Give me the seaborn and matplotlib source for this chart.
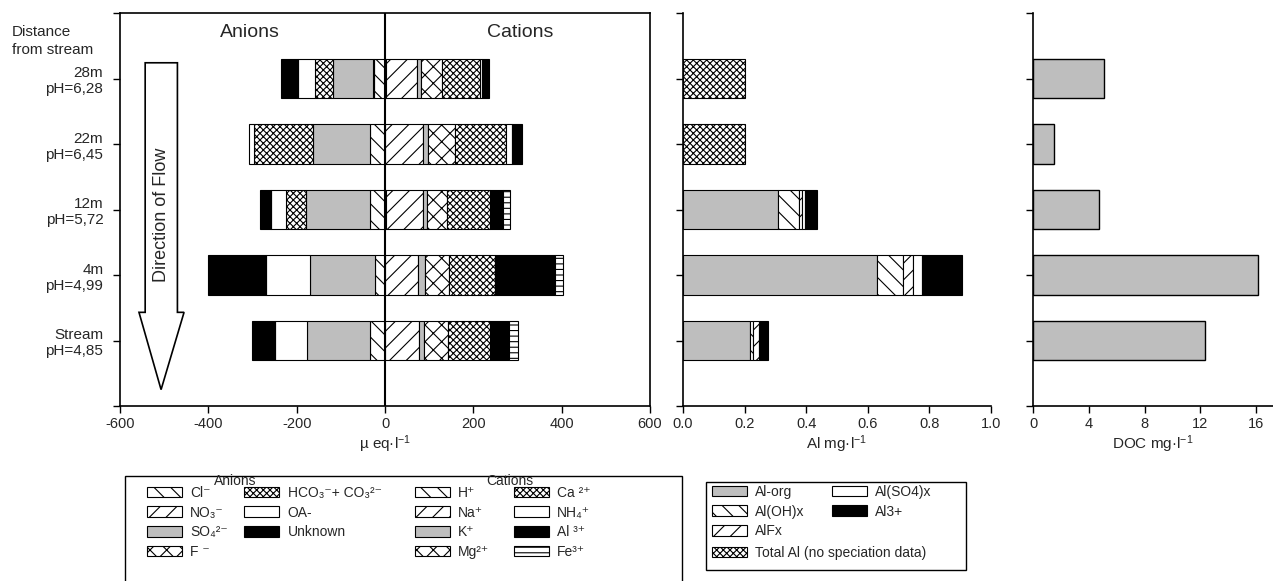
import numpy as np
import pandas as pd
import matplotlib.pyplot as plt
import seaborn as sns
from matplotlib.patches import Patch, Rectangle, Polygon
from matplotlib.transforms import ScaledTranslation

sns.set_theme(style="ticks")
plt.rcParams['font.family'] = ['Liberation Sans', 'DejaVu Sans']
plt.rcParams['mathtext.default'] = 'regular'
plt.rcParams['hatch.linewidth'] = 0.8
plt.rcParams['axes.unicode_minus'] = False

rows = ["28m\npH=6,28", "22m\npH=6,45", "12m\npH=5,72", "4m\npH=4,99", "Stream\npH=4,85"]

# anions, ueq/l (drawn to the left)
cl = [25, 34, 34, 23, 35]
no3 = [3, 0, 0, 0, 0]
so4 = [90, 128, 145, 146, 142]
f_ = [0, 0, 0, 0, 0]
hco3 = [40, 134, 46, 0, 0]
oa = [39, 13, 33, 101, 73]
unknown = [38, 0, 25, 131, 50]

# cations, ueq/l (drawn to the right)
h = [2, 1, 2, 0, 0]
na = [70, 86, 85, 74, 76]
k = [9, 11, 8, 17, 13]
mg = [48, 60, 45, 54, 54]
ca = [87, 117, 97, 103, 94]
nh4 = [3, 13, 0, 0, 0]
al = [17, 23, 30, 137, 44]
fe = [0, 0, 15, 17, 20]

# aluminium speciation, mg/l
al_org = [0, 0, 0.309, 0.630, 0.216]
al_oh = [0, 0, 0.067, 0.085, 0.010]
al_f = [0, 0, 0.009, 0.031, 0.022]
al_so4 = [0, 0, 0.011, 0.030, 0.003]
al3 = [0, 0, 0.039, 0.131, 0.025]
al_total = [0.2, 0.2, 0, 0, 0]

# DOC, mg/l
doc = [5.1, 1.48, 4.75, 16.1, 12.3]

an_labels = ["Cl⁻", "NO₃⁻", "SO₄²⁻", "F ⁻", "HCO₃⁻+ CO₃²⁻", "OA-", "Unknown"]
cat_labels = ["H⁺", "Na⁺", "K⁺", "Mg²⁺", "Ca ²⁺", "NH₄⁺", "Al ³⁺", "Fe³⁺"]
al_labels = ["Al-org", "Al(OH)x", "AlFx", "Al(SO4)x", "Al3+"]

GRAY = "#bebebe"
BACK = "\\\\"
FWD = "//"
CROSS = "xx"
DENSE = "xxxxx"

pos = np.arange(len(rows))

W, H = 1273, 581
fig = plt.figure(figsize=(W / 100, H / 100), dpi=100)
bot = 1 - 406 / H
hgt = 393 / H
ax1 = fig.add_axes([120 / W, bot, 530 / W, hgt])
ax2 = fig.add_axes([683 / W, bot, 308 / W, hgt])
ax3 = fig.add_axes([1033 / W, bot, 240 / W, hgt])


def stack(ax, series, styles, sign=1):
    left = np.zeros(len(pos))
    for vals, (fc, hatch) in zip(series, styles):
        vals = np.asarray(vals, float)
        keep = vals > 0
        ax.barh(pos[keep], sign * vals[keep], left=left[keep], height=0.6,
                color=fc, edgecolor="black", hatch=hatch, linewidth=0.8)
        left += sign * vals


an_styles = [("white", BACK), ("white", FWD), (GRAY, None), ("white", CROSS),
             ("white", DENSE), ("white", None), ("black", None)]
cat_styles = [("white", BACK), ("white", FWD), (GRAY, None), ("white", CROSS),
              ("white", DENSE), ("white", None), ("black", None), ("white", "---")]
stack(ax1, [cl, no3, so4, f_, hco3, oa, unknown], an_styles, sign=-1)
stack(ax1, [h, na, k, mg, ca, nh4, al, fe], cat_styles, sign=1)
ax1.axvline(0, color="black", lw=1.5)

ax1.set_xlim(-600, 600)
ax1.set_xticks(range(-600, 601, 200))
ax1.set_xlabel("µ eq·l$^{-1}$", fontsize=11, labelpad=2)
ax1.text(-306, -0.7, "Anions", ha="center", va="center", fontsize=14)
ax1.text(306, -0.7, "Cations", ha="center", va="center", fontsize=14)

# flow arrow
arrow = Polygon([(-543, -0.24), (-470, -0.24), (-470, 3.57), (-455, 3.57),
                 (-507, 4.75), (-557, 3.57), (-543, 3.57)],
                closed=True, fc="white", ec="black", lw=1.2, zorder=3)
ax1.add_patch(arrow)
ax1.text(-507, 2.08, "Direction of Flow", rotation=90, ha="center", va="center",
         fontsize=13, zorder=4)

# aluminium panel
al_styles = [(GRAY, None), ("white", BACK), ("white", FWD), ("white", None),
             ("black", None), ("white", DENSE)]
stack(ax2, [al_org, al_oh, al_f, al_so4, al3, al_total], al_styles)
ax2.set_xlim(0, 1.0)
ax2.set_xticks(np.arange(0, 1.01, 0.2))
ax2.set_xticklabels([f"{t:.1f}" for t in np.arange(0, 1.01, 0.2)])
ax2.set_xlabel("Al mg·l$^{-1}$", fontsize=11, labelpad=2)

# DOC panel
doc_df = pd.DataFrame({"site": rows, "doc": doc})
sns.barplot(data=doc_df, x="doc", y="site", orient="h", color=GRAY, saturation=1,
            edgecolor="black", linewidth=1, width=0.6, ax=ax3)
ax3.set_xlim(0, 17.2)
ax3.set_xticks([0, 4, 8, 12, 16])
ax3.set_xlabel("DOC mg·l$^{-1}$", fontsize=11, labelpad=2)
ax3.set_ylabel("")

for ax in (ax1, ax2, ax3):
    ax.set_ylim(5, -1)
    ax.set_yticks(range(-1, 6))
    ax.tick_params(axis="both", direction="out", length=5, width=1, color="black",
                   labelsize=10.5, pad=3)
    for s in ax.spines.values():
        s.set_color("black")
        s.set_linewidth(1.2)
for ax in (ax2, ax3):
    ax.set_yticklabels([])
    sns.despine(ax=ax)

ax1.set_yticklabels([""] + rows + [""], fontsize=11, multialignment="right")
shift = ScaledTranslation(0, -11 / 100, fig.dpi_scale_trans)
for lab in ax1.get_yticklabels():
    lab.set_transform(lab.get_transform() + shift)
ax1.tick_params(axis="y", pad=7)

fig.text(12 / W, 1 - 41 / H, "Distance\nfrom stream", ha="left", va="center",
         fontsize=11, linespacing=1.45)


# legends
def hp(fc, hatch):
    return Patch(facecolor=fc, edgecolor="black", hatch=hatch, linewidth=0.8)


an_handles = [hp(fc, ht) for fc, ht in an_styles]
cat_handles = [hp(fc, ht) for fc, ht in cat_styles]

common = dict(loc="upper left", frameon=False, fontsize=10, handlelength=2.5,
              handleheight=0.8, labelspacing=0.4, handletextpad=0.6,
              borderpad=0, borderaxespad=0)
fig.add_artist(Rectangle((125 / W, -0.01), 557 / W, (H - 476) / H + 0.01,
                         transform=fig.transFigure, fill=False, ec="black", lw=1))
fig.legend(an_handles, an_labels, ncol=2, columnspacing=1.2,
           bbox_to_anchor=(147 / W, 1 - 486 / H), **common)
fig.legend(cat_handles, cat_labels, ncol=2, columnspacing=1.8,
           bbox_to_anchor=(415 / W, 1 - 486 / H), **common)
fig.text(235 / W, 1 - 481 / H, "Anions", ha="center", va="center", fontsize=10)
fig.text(510 / W, 1 - 481 / H, "Cations", ha="center", va="center", fontsize=10)

al_handles = [hp(fc, ht) for fc, ht in al_styles[:5]]
fig.add_artist(Rectangle((706 / W, 1 - 570 / H), 260 / W, 88 / H,
                         transform=fig.transFigure, fill=False, ec="black", lw=1))
fig.legend(al_handles, al_labels, ncol=2, columnspacing=2.0,
           bbox_to_anchor=(712 / W, 1 - 485 / H), **common)
fig.legend([hp("white", DENSE)], ["Total Al (no speciation data)"],
           bbox_to_anchor=(712 / W, 1 - 546 / H), **common)

fig.savefig("out.png", dpi=100)
